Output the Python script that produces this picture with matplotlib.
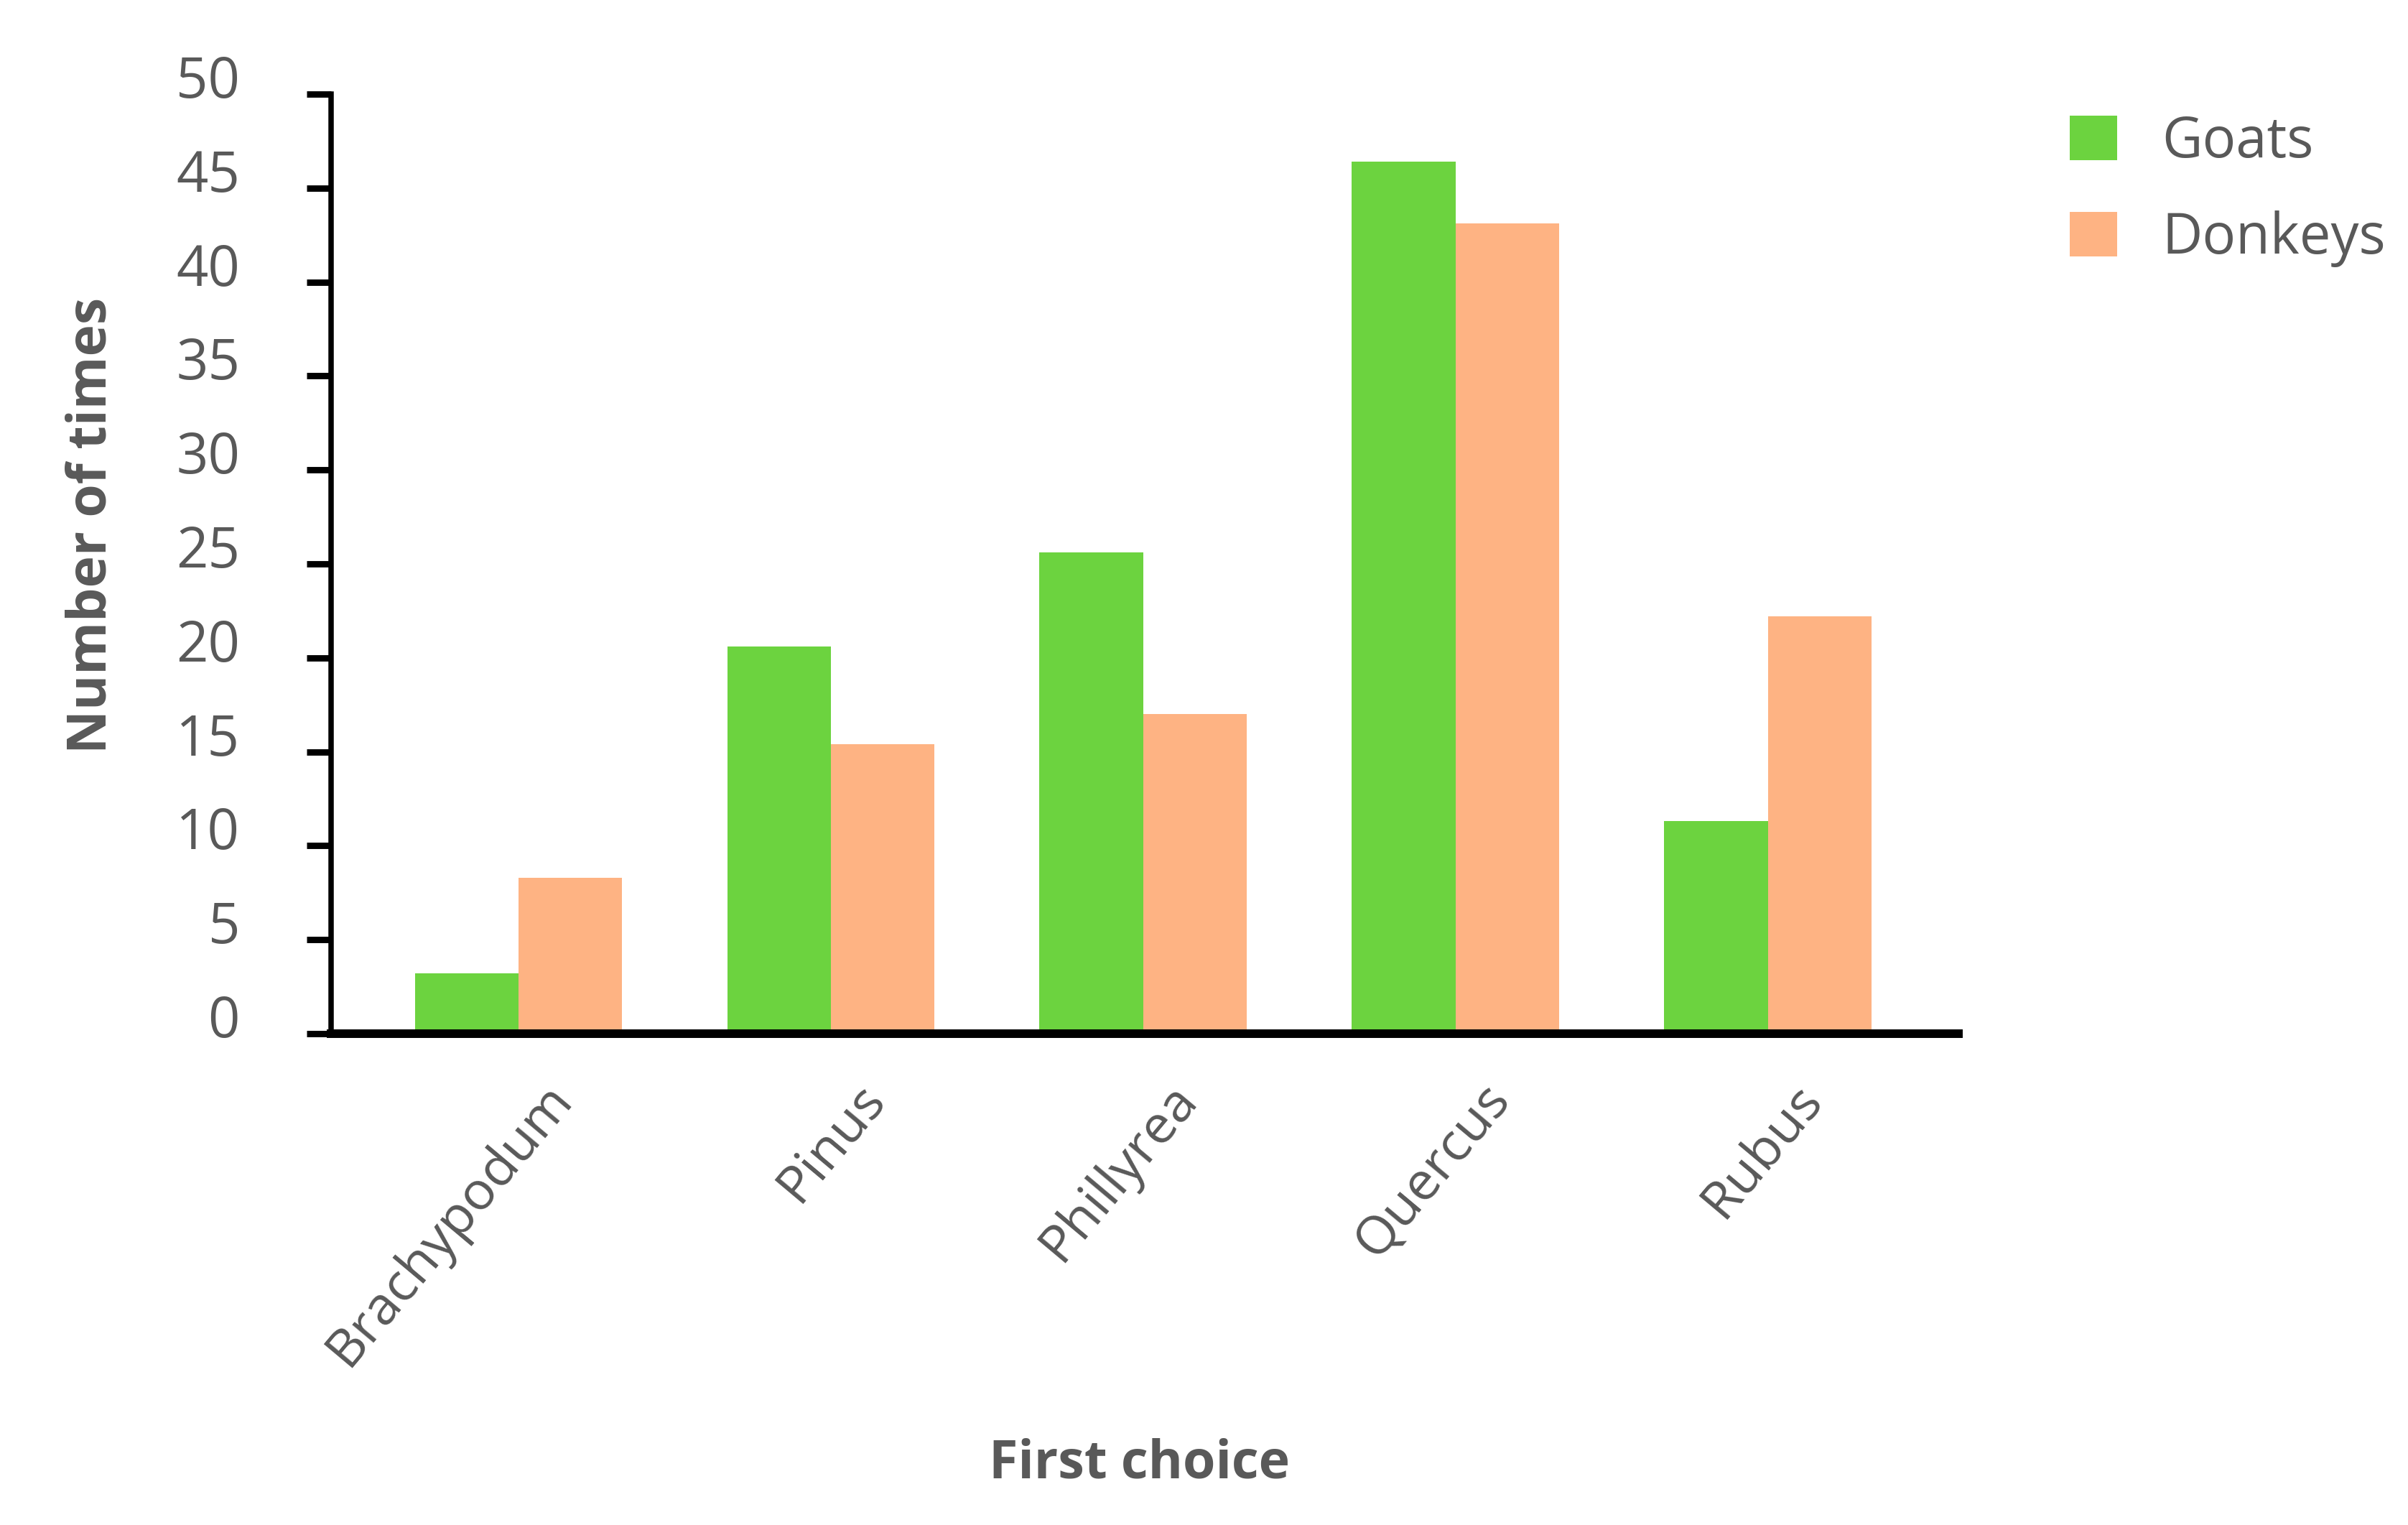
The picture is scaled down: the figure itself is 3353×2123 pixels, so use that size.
import numpy as np
import matplotlib
matplotlib.use('Agg')
import matplotlib.pyplot as plt
from matplotlib.transforms import ScaledTranslation

plt.rcParams['font.family'] = ['Open Sans', 'DejaVu Sans']

# data
plants = ['Brachypodum', 'Pinus', 'Phillyrea', 'Quercus', 'Rubus']
goats = [3.2, 20.6, 25.6, 46.4, 11.3]
donkeys = [8.3, 15.4, 17.0, 43.1, 22.2]
yticks = [0, 5, 10, 15, 20, 25, 30, 35, 40, 45, 50]

grey = '#595959'
green = '#6cd33f'
orange = '#feb383'

fig = plt.figure(figsize=(16.765, 10.615), dpi=200)
ax = fig.add_axes([0.1375, 0.3222, 0.6758, 0.6161])

x = np.arange(len(plants))
w = 0.332
ax.bar(x - w/2, goats, w, color=green, label='Goats', zorder=2)
ax.bar(x + w/2, donkeys, w, color=orange, label='Donkeys', zorder=2)

ax.set_xlim(-0.6, 4.61)
ax.set_ylim(0, 50)
ax.set_yticks(yticks)
ax.set_xticks(x)
ax.set_xticklabels(plants, rotation=50, ha='right', va='center',
                   rotation_mode='anchor', fontsize=26.8, color=grey)

for s in ['top', 'right']:
    ax.spines[s].set_visible(False)
ax.spines['left'].set_linewidth(2.7)
ax.spines['bottom'].set_linewidth(4.3)
ax.spines['left'].set_zorder(3)
ax.spines['bottom'].set_zorder(3)

ax.tick_params(axis='y', direction='out', length=12.2, width=3.2,
               pad=33.5, labelsize=28, labelcolor=grey)
ax.tick_params(axis='x', length=0, pad=28.5)

# tick labels sit a bit above their ticks in the original
up = ScaledTranslation(0, 25/200, fig.dpi_scale_trans)
for lab in ax.get_yticklabels():
    lab.set_transform(lab.get_transform() + up)
right = ScaledTranslation(62/200, 0, fig.dpi_scale_trans)
for lab in ax.get_xticklabels():
    lab.set_transform(lab.get_transform() + right)

ax.set_ylabel('Number of times', fontsize=27, fontweight='bold', color=grey,
              va='center')
ax.yaxis.set_label_coords(-0.147, 0.541)
ax.set_xlabel('First choice', fontsize=26.5, fontweight='bold', color=grey,
              va='center')
ax.xaxis.set_label_coords(0.4965, -0.458)

leg = fig.legend(loc='upper left', bbox_to_anchor=(0.8595, 0.925),
                 frameon=False, fontsize=28, handlelength=0.85, handleheight=0.85,
                 handletextpad=0.8, labelspacing=0.7, borderpad=0,
                 borderaxespad=0)
for t in leg.get_texts():
    t.set_color(grey)

fig.savefig('out.png', dpi=200)
